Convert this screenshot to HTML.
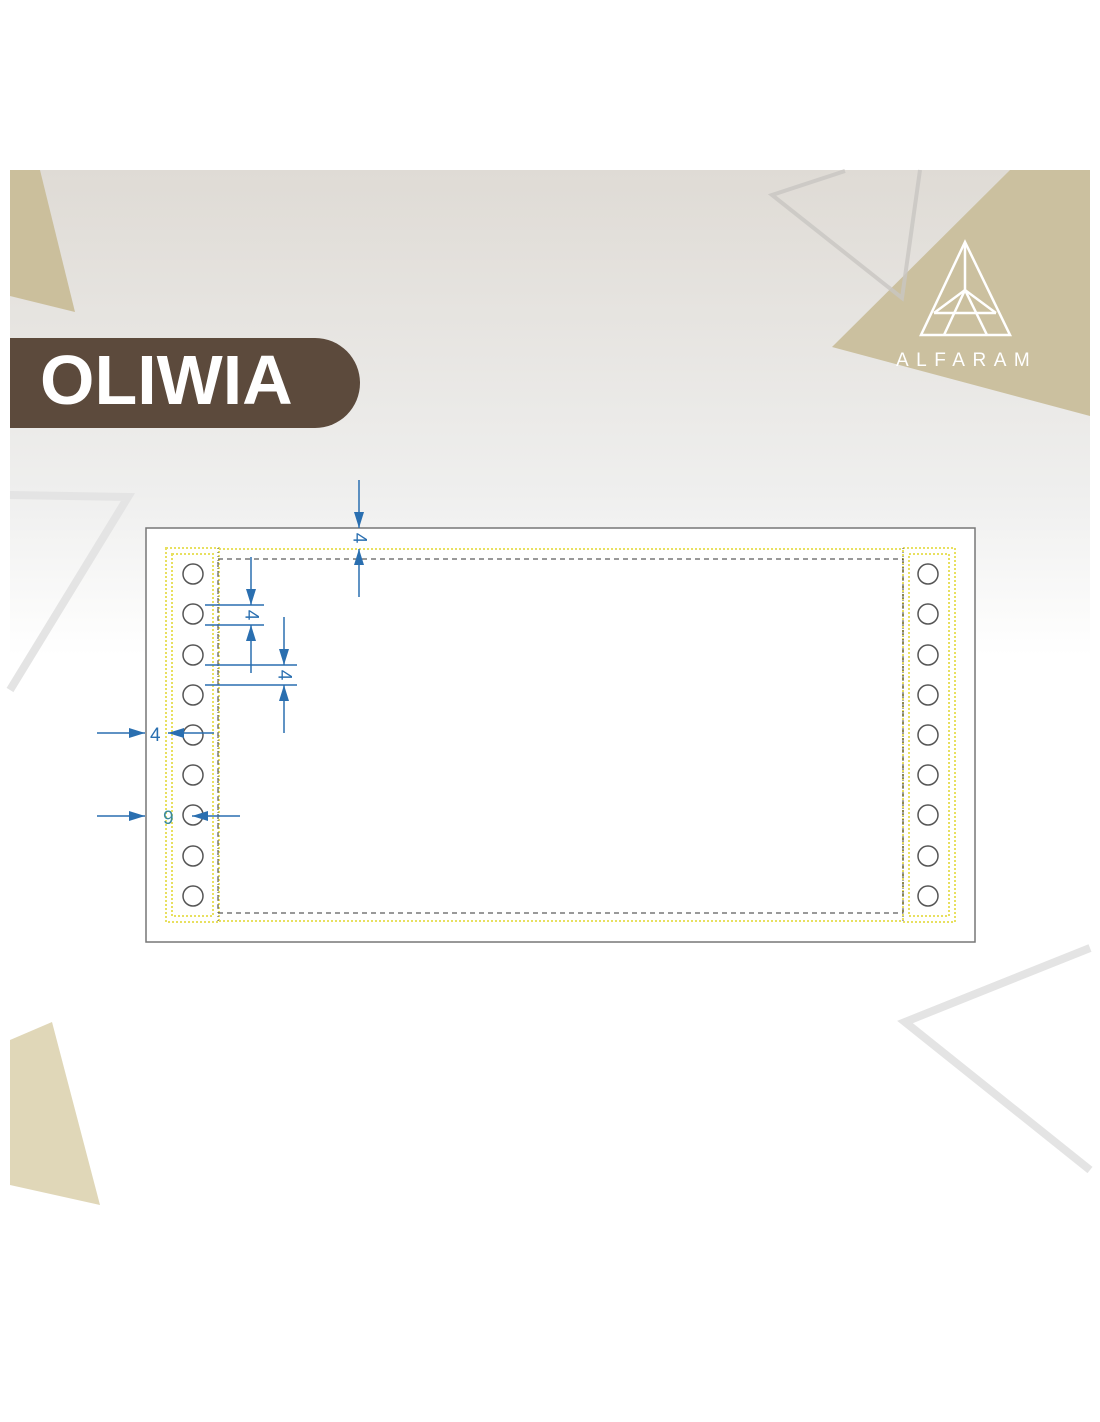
<!DOCTYPE html>
<html><head><meta charset="utf-8"><style>
html,body{margin:0;padding:0;background:#fff}
svg{display:block}
</style></head><body>
<svg width="1100" height="1422" viewBox="0 0 1100 1422" xmlns="http://www.w3.org/2000/svg">
<defs>
<linearGradient id="bg" x1="0" y1="0" x2="0" y2="1">
<stop offset="0" stop-color="#dfdbd5"/>
<stop offset="0.3" stop-color="#efefee"/>
<stop offset="0.45" stop-color="#ffffff"/>
<stop offset="1" stop-color="#ffffff"/>
</linearGradient>
<marker id="ar" viewBox="0 0 10 10" refX="10" refY="5" markerWidth="16" markerHeight="10" markerUnits="userSpaceOnUse" orient="auto" preserveAspectRatio="none">
<path d="M0,0 L10,5 L0,10 z" fill="#2a6fb0"/></marker>
</defs>
<rect x="10" y="170" width="1080" height="1080" fill="url(#bg)"/>
<polygon points="10,170 40,170 75,312 10,296" fill="#cbbf9c"/>
<polygon points="1010,170 1090,170 1090,416 832,347" fill="#cbc09f"/>
<polyline points="845,171 772,195 902,298 920,170" fill="none" stroke="#c8c6c2" stroke-width="4" opacity="0.8"/>
<polyline points="10,495 128,497 10,690" fill="none" stroke="#e4e4e4" stroke-width="8"/>
<polyline points="1090,948 905,1022 1090,1170" fill="none" stroke="#e4e4e4" stroke-width="8"/>
<polygon points="10,1040 52,1022 100,1205 10,1185" fill="#e0d7b8"/>
<g fill="none" stroke="#fff" stroke-width="2.5">
<polygon points="965,242 921,335 1010,335"/>
<line x1="965" y1="242" x2="965" y2="290"/>
<polyline points="934,313 965,290 996,313"/>
<line x1="934" y1="313" x2="996" y2="313"/>
<line x1="965" y1="290" x2="944" y2="335"/>
<line x1="965" y1="290" x2="987" y2="335"/>
</g>
<text x="896" y="366" font-family="Liberation Sans, sans-serif" font-size="19" fill="#fff" letter-spacing="7.5">ALFARAM</text>
<path d="M10,338 H315 A45,45 0 0 1 315,428 H10 Z" fill="#5c4a3c"/>
<text x="40" y="404" font-family="Liberation Sans, sans-serif" font-weight="bold" font-size="70" fill="#fff">OLIWIA</text>
<rect x="146" y="528" width="829" height="414" fill="#fff" stroke="#777" stroke-width="1.5"/>
<g fill="none" stroke="#e8e060" stroke-width="2" stroke-dasharray="2,2">
<rect x="166" y="548" width="53" height="374"/>
<rect x="172" y="554" width="41" height="362"/>
<rect x="903" y="548" width="52" height="374"/>
<rect x="909" y="554" width="40" height="362"/>
<line x1="219" y1="549" x2="903" y2="549"/>
<line x1="219" y1="921" x2="903" y2="921"/>
</g>
<rect x="218" y="559" width="685" height="354" fill="none" stroke="#333" stroke-width="1" stroke-dasharray="5,4"/>
<line x1="218" y1="548" x2="218" y2="922" stroke="#555" stroke-dasharray="1,3"/>
<line x1="903" y1="548" x2="903" y2="922" stroke="#555" stroke-dasharray="1,3"/>
<g fill="none" stroke="#555" stroke-width="1.5">
<circle cx="193" cy="574" r="10"/><circle cx="193" cy="614" r="10"/><circle cx="193" cy="655" r="10"/><circle cx="193" cy="695" r="10"/><circle cx="193" cy="735" r="10"/><circle cx="193" cy="775" r="10"/><circle cx="193" cy="815" r="10"/><circle cx="193" cy="856" r="10"/><circle cx="193" cy="896" r="10"/>
<circle cx="928" cy="574" r="10"/><circle cx="928" cy="614" r="10"/><circle cx="928" cy="655" r="10"/><circle cx="928" cy="695" r="10"/><circle cx="928" cy="735" r="10"/><circle cx="928" cy="775" r="10"/><circle cx="928" cy="815" r="10"/><circle cx="928" cy="856" r="10"/><circle cx="928" cy="896" r="10"/>
</g>
<g stroke="#2a6fb0" stroke-width="1.5" fill="none">
<line x1="359" y1="480" x2="359" y2="528" marker-end="url(#ar)"/>
<line x1="359" y1="597" x2="359" y2="549" marker-end="url(#ar)"/>
<line x1="205" y1="605" x2="264" y2="605"/>
<line x1="205" y1="625" x2="264" y2="625"/>
<line x1="251" y1="557" x2="251" y2="605" marker-end="url(#ar)"/>
<line x1="251" y1="673" x2="251" y2="625" marker-end="url(#ar)"/>
<line x1="205" y1="665" x2="297" y2="665"/>
<line x1="205" y1="685" x2="297" y2="685"/>
<line x1="284" y1="617" x2="284" y2="665" marker-end="url(#ar)"/>
<line x1="284" y1="733" x2="284" y2="685" marker-end="url(#ar)"/>
<line x1="97" y1="733" x2="145" y2="733" marker-end="url(#ar)"/>
<line x1="214" y1="733" x2="168" y2="733" marker-end="url(#ar)"/>
<line x1="97" y1="816" x2="145" y2="816" marker-end="url(#ar)"/>
<line x1="240" y1="816" x2="192" y2="816" marker-end="url(#ar)"/>
</g>
<g font-family="Liberation Sans, sans-serif" font-size="19" fill="#2a6fb0">
<text x="359" y="538" transform="rotate(90 359 538)" text-anchor="middle" dominant-baseline="central">4</text>
<text x="251" y="615" transform="rotate(90 251 615)" text-anchor="middle" dominant-baseline="central">4</text>
<text x="284" y="675" transform="rotate(90 284 675)" text-anchor="middle" dominant-baseline="central">4</text>
<text x="150" y="741">4</text>
<text x="163" y="824" fill="#3a8a9a">9</text>
</g>
</svg>
</body></html>
